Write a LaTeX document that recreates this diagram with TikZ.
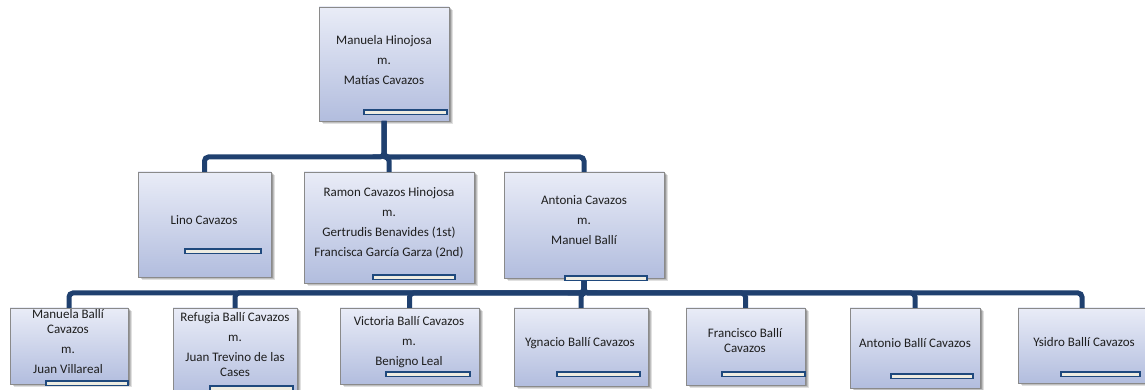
\documentclass[tikz,border=0pt]{standalone}
\usepackage{fontspec}
\setmainfont{Carlito}
\usetikzlibrary{shadows}
\definecolor{conncol}{HTML}{1F406F}
\definecolor{boxtop}{HTML}{E9ECF7}
\definecolor{boxbot}{HTML}{B2BDDE}
\definecolor{boxline}{HTML}{8A8A8A}
\definecolor{barfill}{HTML}{EEECE1}
\definecolor{barline}{HTML}{1F497D}
\definecolor{txt}{HTML}{1E1E1E}
\tikzset{
  pbox/.style={draw=boxline, line width=0.9pt, top color=boxtop, bottom color=boxbot,
    anchor=north west, inner sep=0pt, outer sep=0pt,
    drop shadow={shadow xshift=3.5pt, shadow yshift=-3.5pt, opacity=0.12, fill=black},
    drop shadow={shadow xshift=2.5pt, shadow yshift=-2.5pt, opacity=0.15, fill=black},
    drop shadow={shadow xshift=1.5pt, shadow yshift=-1.5pt, opacity=0.2, fill=black}},
  pbar/.style={draw=barline, fill=barfill, line width=1.3pt, inner sep=0pt, outer sep=0pt,
    minimum height=4.5pt, anchor=north west},
  ptext/.style={align=center, text=txt, font=\fontsize{13}{15}\selectfont, inner sep=0pt},
  conn/.style={draw=conncol, line width=5pt, rounded corners=4pt},
}
\begin{document}
\begin{tikzpicture}[x=1pt,y=1pt]
\useasboundingbox (0,0) rectangle (1145,390);
\clip (0,0) rectangle (1145,390);
% boxes: (x1, 390-y1), width, height
\node[pbox, minimum width=130pt, minimum height=114pt] (top) at (319,383) {};
\node[pbox, minimum width=133pt, minimum height=105pt] (lino) at (138,218) {};
\node[pbox, minimum width=170pt, minimum height=111pt] (ramon) at (304,218) {};
\node[pbox, minimum width=160pt, minimum height=106pt] (antonia) at (504,218) {};
\node[pbox, minimum width=118pt, minimum height=76pt] (manuela) at (10,82) {};
\node[pbox, minimum width=124pt, minimum height=90pt] (refugia) at (173,82) {};
\node[pbox, minimum width=139pt, minimum height=76pt] (victoria) at (340,82) {};
\node[pbox, minimum width=134pt, minimum height=78pt] (ygnacio) at (514,82) {};
\node[pbox, minimum width=119pt, minimum height=77pt] (francisco) at (686,82) {};
\node[pbox, minimum width=130pt, minimum height=80pt] (antonio) at (850,82) {};
\node[pbox, minimum width=128pt, minimum height=75pt] (ysidro) at (1018,82) {};
% connectors
\draw[conn] (top.south) -- ++(0,-36) -| (lino.north);
\draw[conn] (top.south) -- ++(0,-36) -| (ramon.north);
\draw[conn] (top.south) -- ++(0,-36) -| (antonia.north);
\foreach \c in {manuela,refugia,victoria,ygnacio,francisco,antonio,ysidro}
  \draw[conn] (antonia.south) -- ++(0,-15) -| (\c.north);
% bars
\node[pbar, minimum width=83pt] (btop) at (364,280) {};
\node[pbar, minimum width=76pt] (blino) at (185,141) {};
\node[pbar, minimum width=82pt] (bramon) at (373,115) {};
\node[pbar, minimum width=82pt] (bantonia) at (565,114) {};
\node[pbar, minimum width=82pt] (bmanuela) at (46,9) {};
\node[pbar, minimum width=83pt] (brefugia) at (210,4) {};
\node[pbar, minimum width=84pt] (bvictoria) at (386,18) {};
\node[pbar, minimum width=83pt] (bygnacio) at (557,18) {};
\node[pbar, minimum width=83pt] (bfrancisco) at (722,18) {};
\node[pbar, minimum width=82pt] (bantonio) at (891,16) {};
\node[pbar, minimum width=79pt] (bysidro) at (1061,18) {};
% texts
\node[ptext] (ttop) at (384,330) {Manuela Hinojosa\\[5pt] m.\\[5pt] Matías Cavazos};
\node[ptext] (tlino) at (204,170) {Lino Cavazos};
\node[ptext] (tramon) at (389,167.5) {Ramon Cavazos Hinojosa\\[5pt] m.\\[5pt] Gertrudis Benavides (1st)\\[5pt] Francisca García Garza (2nd)};
\node[ptext] (tantonia) at (584,169.5) {Antonia Cavazos\\[5pt] m.\\[5pt] Manuel Ballí};
\node[ptext] (tmanuela) at (68,48.5) {Manuela Ballí\\ Cavazos\\[5pt] m.\\[5pt] Juan Villareal};
\node[ptext] (trefugia) at (235,45) {Refugia Ballí Cavazos\\[5pt] m.\\[5pt] Juan Trevino de las\\ Cases};
\node[ptext] (tvictoria) at (409,48) {Victoria Ballí Cavazos\\[5pt] m.\\[5pt] Benigno Leal};
\node[ptext] (tygnacio) at (580,47) {Ygnacio Ballí Cavazos};
\node[ptext] (tfrancisco) at (745,49) {Francisco Ballí\\ Cavazos};
\node[ptext] (tantonio) at (915,47) {Antonio Ballí Cavazos};
\node[ptext] (tysidro) at (1084,48) {Ysidro Ballí Cavazos};
\end{tikzpicture}
\end{document}
